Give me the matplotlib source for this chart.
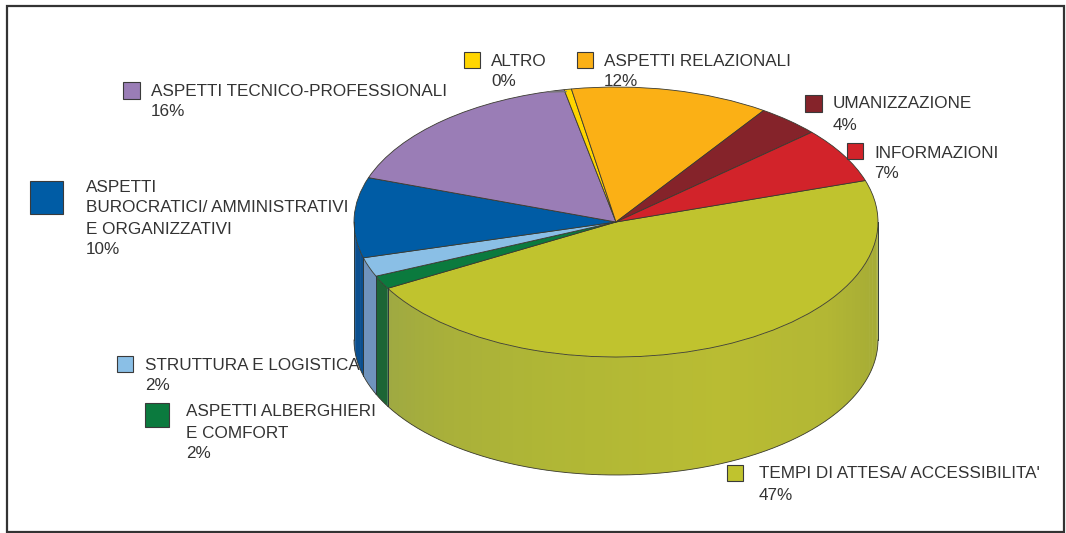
import numpy as np
import matplotlib
matplotlib.use("Agg")
import matplotlib.pyplot as plt
from matplotlib.patches import Rectangle

plt.rcParams['font.family'] = ['Liberation Sans', 'DejaVu Sans']

# clockwise from the right hand edge of the big slice
categories = ["TEMPI DI ATTESA/ ACCESSIBILITA'", "ASPETTI ALBERGHIERI\nE COMFORT", "STRUTTURA E LOGISTICA",
              "ASPETTI\nBUROCRATICI/ AMMINISTRATIVI\nE ORGANIZZATIVI", "ASPETTI TECNICO-PROFESSIONALI",
              "ALTRO", "ASPETTI RELAZIONALI", "UMANIZZAZIONE", "INFORMAZIONI"]
slice_sizes = [46.8, 1.6, 2.3, 9.6, 16.5, 0.45, 12.25, 3.9, 6.6]
percent_labels = ["47%", "2%", "2%", "10%", "16%", "0%", "12%", "4%", "7%"]

top_colors = ["#c0c32e", "#0b7a3e", "#8abfe6", "#005ca5", "#9a7db6", "#ffd500", "#fbb015", "#85232a", "#d2232a"]
wall_colors = ["#b3b738", "#1d6535", "#6f93bd", "#0a4f8f", "#7a6090", "#c9a800", "#c98c10", "#6a1c22", "#a81c22"]

# shading of the big slice's wall, left to right
shade_x = [-0.87, -0.65, -0.3, 0.4, 0.8, 1.0]
shade_cols = ["#9fa942", "#a9b03a", "#afb636", "#b9bc33", "#b3b734", "#a6ac36"]

# where the legend squares and the text go, in pixels
square_pos = [(727, 465, 16), (145, 403, 24), (117, 356, 16), (30, 181, 33), (123, 82, 17),
              (464, 52, 16), (577, 52, 16), (805, 95, 17), (847, 143, 16)]
text_pos = [(759, 474), (186, 412), (145, 365), (86, 187), (151, 91),
            (491, 61), (604, 61), (833, 104), (874, 153)]
line_step = 21

W, H = 1066, 533
cx, cy, rx, ry, depth = 616, 222, 262, 135, 118
start_angle = 17.9

fig = plt.figure(figsize=(W / 100, H / 100), dpi=100)
ax = fig.add_axes([0, 0, 1, 1])
ax.pie(slice_sizes, colors=top_colors, startangle=start_angle, counterclock=False, radius=1,
       wedgeprops=dict(edgecolor="#3a3a30", linewidth=0.6))
ax.set_aspect('auto')
ax.set_xlim(-cx / rx, (W - cx) / rx)
ax.set_ylim((cy - H) / ry, cy / ry)
ax.axis('off')

shade_rgb = np.array([matplotlib.colors.to_rgb(c) for c in shade_cols])

# side wall, only the part of the rim facing the viewer
d = depth / ry
edges = start_angle - 3.6 * np.cumsum([0] + slice_sizes)
for i in range(len(slice_sizes)):
    lo = max(edges[i + 1], -180)
    hi = min(edges[i], 0)
    if lo >= hi:
        continue
    th = np.radians(np.linspace(lo, hi, int((hi - lo) / 1.5) + 2))
    for k, (t0, t1) in enumerate(zip(th[:-1], th[1:])):
        mid = (np.cos(t0) + np.cos(t1)) / 2
        if i == 0:
            col = [np.interp(mid, shade_x, shade_rgb[:, c]) for c in range(3)]
        else:
            col = wall_colors[i]
        # a little overlap so no seams show between the strips
        tt = np.linspace(t0, min(t1 + 0.01, th[-1]), 4)
        ax.fill_between(np.cos(tt), np.sin(tt), np.sin(tt) - d, facecolor=col, linewidth=0, zorder=0.5)
    tt = np.radians(np.linspace(lo, hi, 200))
    ax.plot(np.cos(tt), np.sin(tt) - d, color="#3a3a30", lw=0.6, zorder=3)
    for a in (lo, hi):
        ar = np.radians(a)
        ax.plot([np.cos(ar)] * 2, [np.sin(ar), np.sin(ar) - d], color="#2f3a3a", lw=0.7, zorder=3)

# overlay in pixel coordinates for frame, squares and labels
ov = fig.add_axes([0, 0, 1, 1], facecolor='none')
ov.set_xlim(0, W)
ov.set_ylim(H, 0)
ov.axis('off')
ov.add_patch(Rectangle((7, 6), 1057, 526, fill=False, edgecolor="#333333", linewidth=1.6))
ov.plot([549, 566], [92, 91.5], color="#777777", lw=1)  # leader of the ALTRO slice

for i, name in enumerate(categories):
    sx, sy, size = square_pos[i]
    ov.add_patch(Rectangle((sx, sy), size, size, facecolor=top_colors[i], edgecolor="#3a3a3a", linewidth=0.8))
    tx, ty = text_pos[i]
    lines = name.split("\n") + [percent_labels[i]]
    for j, line in enumerate(lines):
        ov.text(tx, ty + j * line_step, line, fontsize=12.3, color="#333333", va='center', ha='left')

fig.savefig("out.png", dpi=100)
